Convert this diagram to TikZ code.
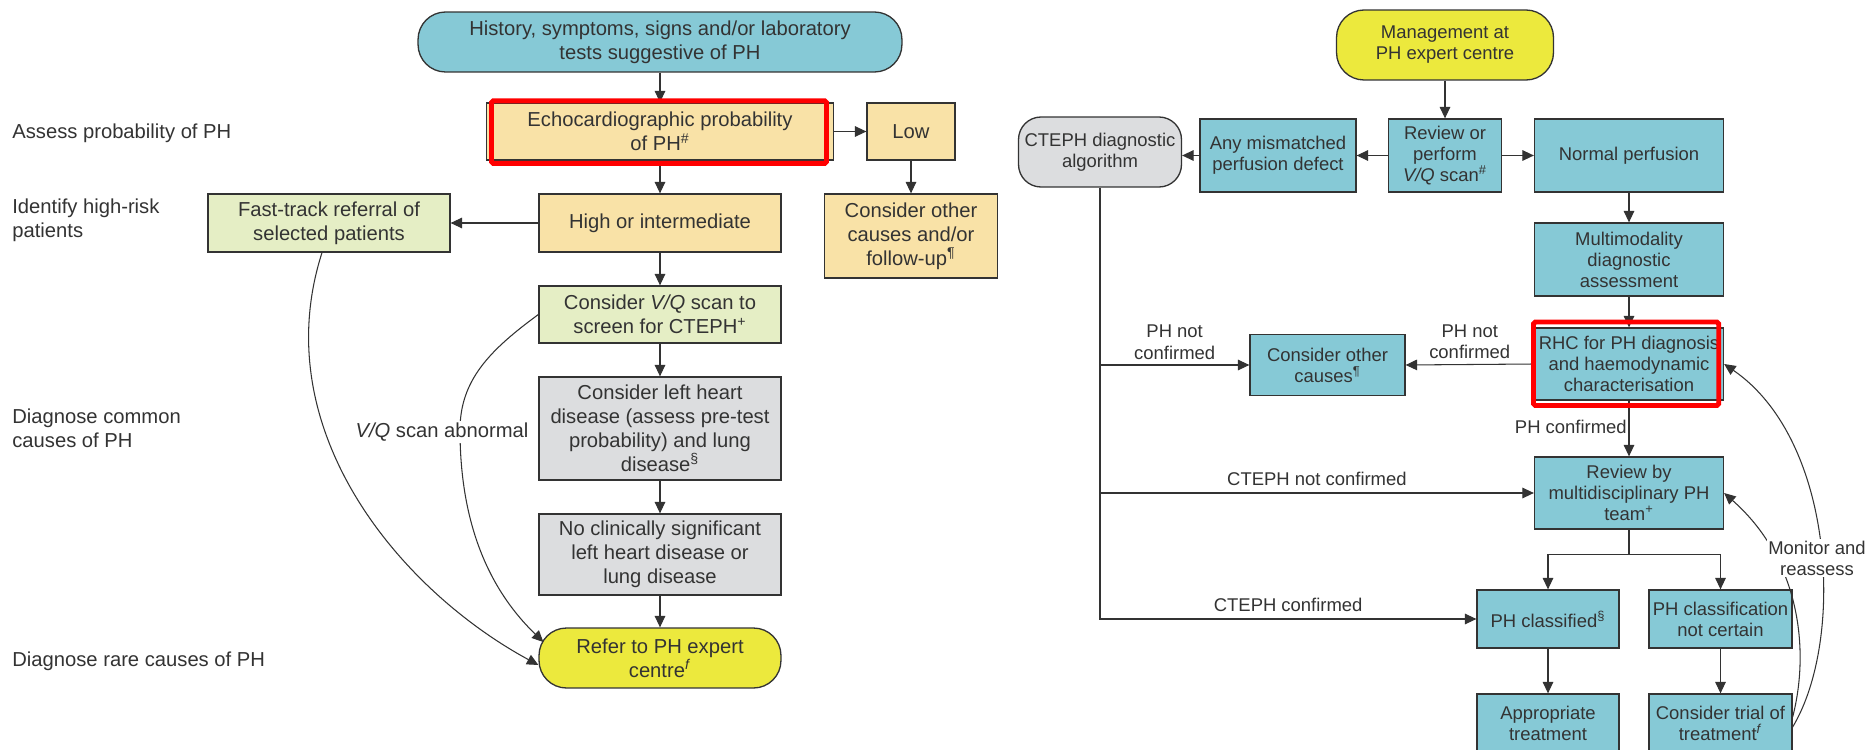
\documentclass[tikz,border=0pt]{standalone}
\usepackage{fontspec}
\setmainfont{Liberation Sans}
\usepackage{tikz}
\usetikzlibrary{arrows.meta}
\usetikzlibrary{calc}

\definecolor{tealbox}{RGB}{134,201,214}
\definecolor{tanbox}{RGB}{249,226,167}
\definecolor{greenbox}{RGB}{229,238,197}
\definecolor{greybox}{RGB}{220,221,223}
\definecolor{yellowbox}{RGB}{236,233,61}
\definecolor{inkgrey}{RGB}{51,51,51}
\definecolor{markred}{RGB}{255,0,0}

\newcommand{\leftsize}{\fontsize{11.5}{13.6}\selectfont}
\newcommand{\rightsize}{\fontsize{10.5}{12}\selectfont}

\tikzset{
  box/.style={draw=inkgrey, line width=0.75pt, text=inkgrey, align=center, inner sep=1pt},
  lbox/.style={box, font=\leftsize},
  rbox/.style={box, font=\rightsize},
  pill/.style={rounded corners=0.55cm},
  conn/.style={draw=inkgrey, line width=0.6pt, -{Triangle[length=6.5pt,width=6pt]}},
  plainline/.style={draw=inkgrey, line width=0.6pt},
  redmark/.style={draw=markred, line width=2.8pt, rounded corners=1pt},
  sidelabel/.style={anchor=west, align=left, text=inkgrey, inner sep=0pt, font=\leftsize},
  edgelabel/.style={text=inkgrey, align=center, inner sep=1pt, font=\rightsize},
}

\begin{document}
\begin{tikzpicture}[x=0.02cm, y=-0.02cm]
\fill[white] (0,0) rectangle (1870,750);
\useasboundingbox (0,0) rectangle (1870,750);

% left chart
\node[lbox, pill, fill=tealbox, minimum width=9.68cm, minimum height=1.2cm] (hist) at (660,42) {History, symptoms, signs and/or laboratory\\tests suggestive of PH};
\node[lbox, fill=tanbox, minimum width=6.94cm, minimum height=1.14cm] (echo) at (660,131.5) {Echocardiographic probability\\of PH\textsuperscript{\#}};
\node[lbox, fill=tanbox, minimum width=1.76cm, minimum height=1.14cm] (low) at (911,131.5) {Low};
\node[lbox, fill=tanbox, minimum width=3.46cm, minimum height=1.68cm] (otherA) at (911,236) {Consider other\\causes and/or\\follow-up\textsuperscript{\P}};
\node[lbox, fill=tanbox, minimum width=4.84cm, minimum height=1.16cm] (high) at (660,223) {High or intermediate};
\node[lbox, fill=greenbox, minimum width=4.84cm, minimum height=1.16cm] (fast) at (329,223) {Fast-track referral of\\selected patients};
\node[lbox, fill=greenbox, minimum width=4.84cm, minimum height=1.14cm] (vq) at (660,314.5) {Consider \textit{V/Q} scan to\\screen for CTEPH\textsuperscript{+}};
\node[lbox, fill=greybox, minimum width=4.84cm, minimum height=2.06cm] (lhd) at (660,428.5) {Consider left heart\\disease (assess pre-test\\probability) and lung\\disease\textsuperscript{\S}};
\node[lbox, fill=greybox, minimum width=4.84cm, minimum height=1.62cm] (noclin) at (660,554.5) {No clinically significant\\left heart disease or\\lung disease};
\node[lbox, pill, fill=yellowbox, minimum width=4.84cm, minimum height=1.2cm] (refer) at (660,658) {Refer to PH expert\\centre\textsuperscript{\textit{f}}};

\node[sidelabel] (assess) at (12,133) {Assess probability of PH};
\node[sidelabel] (identify) at (12,220) {Identify high-risk\\patients};
\node[sidelabel] (common) at (12,428) {Diagnose common\\causes of PH};
\node[sidelabel] (rare) at (12,661) {Diagnose rare causes of PH};

\draw[conn] (hist) -- (echo);
\draw[conn] (echo) -- (low);
\draw[conn] (echo) -- (high);
\draw[conn] (low) -- (otherA);
\draw[conn] (high) -- (fast);
\draw[conn] (high) -- (vq);
\draw[conn] (vq) -- (lhd);
\draw[conn] (lhd) -- (noclin);
\draw[conn] (noclin) -- (refer);
\draw[conn] ([xshift=-0.14cm]fast.south) .. controls (265,430) and (400,590) .. ([yshift=-0.14cm]refer.west);
\draw[conn] (vq.west) .. controls (490,350) and (460,380) .. (460,430) .. controls (460,540) and (500,600) .. ([xshift=0.1cm,yshift=0.32cm]refer.west);
\node[fill=white, text=inkgrey, inner sep=1pt, font=\leftsize] (vqlabel) at (442,432) {\textit{V/Q} scan abnormal};

% right chart
\node[rbox, pill, fill=yellowbox, minimum width=4.34cm, minimum height=1.4cm] (mgmt) at (1445,45) {Management at\\PH expert centre};
\node[rbox, fill=tealbox, minimum width=2.26cm, minimum height=1.46cm] (review) at (1445,155.5) {Review or\\perform\\\textit{V/Q} scan\textsuperscript{\#}};
\node[rbox, fill=tealbox, minimum width=3.12cm, minimum height=1.46cm] (mismatch) at (1278,155.5) {Any mismatched\\perfusion defect};
\node[rbox, fill=greybox, rounded corners=0.45cm, minimum width=3.26cm, minimum height=1.4cm] (cteph) at (1100,152) {CTEPH diagnostic\\algorithm};
\node[rbox, fill=tealbox, minimum width=3.78cm, minimum height=1.46cm] (normal) at (1629,155.5) {Normal perfusion};
\node[rbox, fill=tealbox, minimum width=3.78cm, minimum height=1.46cm] (multi) at (1629,259.5) {Multimodality\\diagnostic\\assessment};
\node[rbox, fill=tealbox, minimum width=3.78cm, minimum height=1.44cm] (rhc) at (1629,364) {RHC for PH diagnosis\\and haemodynamic\\characterisation};
\node[rbox, fill=tealbox, minimum width=3.1cm, minimum height=1.22cm] (otherB) at (1327.5,365) {Consider other\\causes\textsuperscript{\P}};
\node[rbox, fill=tealbox, minimum width=3.78cm, minimum height=1.44cm] (mdt) at (1629,493) {Review by\\multidisciplinary PH\\team\textsuperscript{+}};
\node[rbox, fill=tealbox, minimum width=2.84cm, minimum height=1.16cm] (classified) at (1548,619) {PH classified\textsuperscript{\S}};
\node[rbox, fill=tealbox, minimum width=2.86cm, minimum height=1.16cm] (notcert) at (1720.5,619) {PH classification\\not certain};
\node[rbox, fill=tealbox, minimum width=2.84cm, minimum height=1.16cm] (approp) at (1548,723) {Appropriate\\treatment};
\node[rbox, fill=tealbox, minimum width=2.86cm, minimum height=1.16cm] (trial) at (1720.5,723) {Consider trial of\\treatment\textsuperscript{\textit{f}}};

\draw[conn] (mgmt) -- (review);
\draw[conn] (review) -- (mismatch);
\draw[conn] (review) -- (normal);
\draw[conn] (mismatch.west) -- (mismatch.west -| cteph.east);
\draw[conn] (normal) -- (multi);
\draw[conn] (multi) -- (rhc);
\draw[conn] (rhc) -- node[edgelabel, left, pos=0.47] {PH confirmed} (mdt);
\draw[conn] (rhc.west) -- node[edgelabel, above, yshift=2pt] {PH not\\confirmed} (otherB.east);
\draw[conn] (cteph.south) |- node[edgelabel, above, pos=0.75, yshift=3pt] {CTEPH confirmed} (classified.west);
\draw[conn] (cteph.south |- otherB.west) -- node[edgelabel, above, yshift=2pt] {PH not\\confirmed} (otherB.west);
\draw[conn] (cteph.south |- mdt.west) -- node[edgelabel, above, yshift=3pt] {CTEPH not confirmed} (mdt.west);
\coordinate (split) at ($(mdt.south)+(0,25)$);
\draw[plainline] (mdt.south) -- (split);
\draw[conn] (split) -| (classified.north);
\draw[conn] (split) -| (notcert.north);
\draw[conn] (classified) -- (approp);
\draw[conn] (notcert) -- (trial);
\draw[conn] ([yshift=-0.08cm]trial.east) .. controls (1845,640) and (1835,440) .. (rhc.east);
\draw[conn] ([yshift=0.12cm]trial.east) .. controls (1810,650) and (1800,560) .. (mdt.east);
\node[edgelabel, fill=white] (monitor) at (1817,558) {Monitor and\\reassess};

% red marks
\draw[redmark] (491.5,100.8) rectangle (826.5,163.3);
\draw[redmark] (1533.5,322) rectangle (1718.7,405.5);
\end{tikzpicture}
\end{document}
